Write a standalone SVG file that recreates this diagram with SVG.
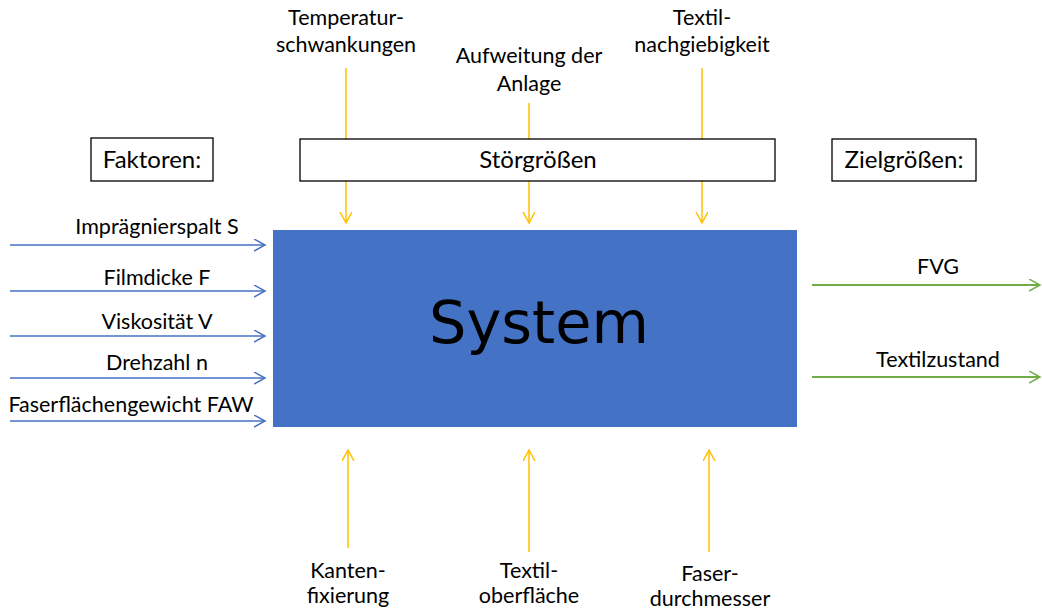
<svg xmlns="http://www.w3.org/2000/svg" width="1042" height="610" viewBox="0 0 1042 610">
<style>
text{font-family:Lato,"Open Sans","Liberation Sans",sans-serif;font-size:21.5px;fill:#000;text-anchor:middle}
.bl{font-size:24px}
.box{fill:#fff;stroke:#000;stroke-width:1.3}
.y{stroke:#FFC000;stroke-width:1.5;fill:none}
.b{stroke:#4472C4;stroke-width:1.5;fill:none}
.g{stroke:#70AD47;stroke-width:1.8;fill:none}
</style>
<defs>
<marker id="ay" markerWidth="14" markerHeight="14" refX="11" refY="6" orient="auto" markerUnits="userSpaceOnUse"><polyline points="0,0 11,6 0,12" fill="none" stroke="#FFC000" stroke-width="1.5"/></marker>
<marker id="ab" markerWidth="14" markerHeight="14" refX="11" refY="6" orient="auto" markerUnits="userSpaceOnUse"><polyline points="0,0 11,6 0,12" fill="none" stroke="#4472C4" stroke-width="1.5"/></marker>
<marker id="ag" markerWidth="14" markerHeight="14" refX="11" refY="6" orient="auto" markerUnits="userSpaceOnUse"><polyline points="0,0 11,6 0,12" fill="none" stroke="#70AD47" stroke-width="1.5"/></marker>
</defs>
<rect width="1042" height="610" fill="#fff"/>
<g id="connectors">
<line class="y" x1="346" y1="68" x2="346" y2="139"/>
<line class="y" x1="346" y1="181" x2="346" y2="223" marker-end="url(#ay)"/>
<line class="y" x1="529" y1="103" x2="529" y2="139"/>
<line class="y" x1="529" y1="181" x2="529" y2="223" marker-end="url(#ay)"/>
<line class="y" x1="702" y1="68" x2="702" y2="139"/>
<line class="y" x1="702" y1="181" x2="702" y2="223" marker-end="url(#ay)"/>
<line class="y" x1="348" y1="548" x2="348" y2="450" marker-end="url(#ay)"/>
<line class="y" x1="529" y1="552" x2="529" y2="450" marker-end="url(#ay)"/>
<line class="y" x1="709" y1="552" x2="709" y2="450" marker-end="url(#ay)"/>
<line class="b" x1="10" y1="245" x2="265" y2="245" marker-end="url(#ab)"/>
<line class="b" x1="10" y1="291" x2="265" y2="291" marker-end="url(#ab)"/>
<line class="b" x1="10" y1="336" x2="265" y2="336" marker-end="url(#ab)"/>
<line class="b" x1="10" y1="378" x2="265" y2="378" marker-end="url(#ab)"/>
<line class="b" x1="10" y1="421" x2="265" y2="421" marker-end="url(#ab)"/>
<line class="g" x1="812" y1="285" x2="1040" y2="285" marker-end="url(#ag)"/>
<line class="g" x1="812" y1="377" x2="1040" y2="377" marker-end="url(#ag)"/>
</g>
<g id="system">
<rect x="273" y="230" width="524" height="197" fill="#4472C4"/>
<text x="539" y="343" style="font-family:'DejaVu Sans',sans-serif;font-size:59px">System</text>
</g>
<g id="stoergroessen">
<rect class="box" x="300" y="139" width="475" height="42"/>
<text class="bl" x="538" y="168">Störgrößen</text>
</g>
<g id="faktoren">
<rect class="box" x="91" y="138" width="122" height="43"/>
<text class="bl" x="152" y="168">Faktoren:</text>
</g>
<g id="zielgroessen">
<rect class="box" x="832" y="139" width="144" height="42"/>
<text class="bl" x="904" y="168">Zielgrößen:</text>
</g>
<g id="temperatur"><text x="346" y="25">Temperatur-</text><text x="346" y="52">schwankungen</text></g>
<g id="aufweitung"><text x="529" y="63">Aufweitung der</text><text x="529" y="91">Anlage</text></g>
<g id="nachgiebigkeit"><text x="702" y="25">Textil-</text><text x="702" y="52">nachgiebigkeit</text></g>
<g id="impraegnierspalt"><text x="157" y="234">Imprägnierspalt S</text></g>
<g id="filmdicke"><text x="157" y="285">Filmdicke F</text></g>
<g id="viskositaet"><text x="157" y="329">Viskosität V</text></g>
<g id="drehzahl"><text x="157" y="370">Drehzahl n</text></g>
<g id="faw"><text x="131" y="412">Faserflächengewicht FAW</text></g>
<g id="fvg"><text x="938" y="274">FVG</text></g>
<g id="textilzustand"><text x="938" y="367">Textilzustand</text></g>
<g id="kanten"><text x="348" y="578">Kanten-</text><text x="348" y="603">fixierung</text></g>
<g id="oberflaeche"><text x="529" y="578">Textil-</text><text x="529" y="603">oberfläche</text></g>
<g id="faser"><text x="710" y="581">Faser-</text><text x="710" y="606">durchmesser</text></g>
</svg>
